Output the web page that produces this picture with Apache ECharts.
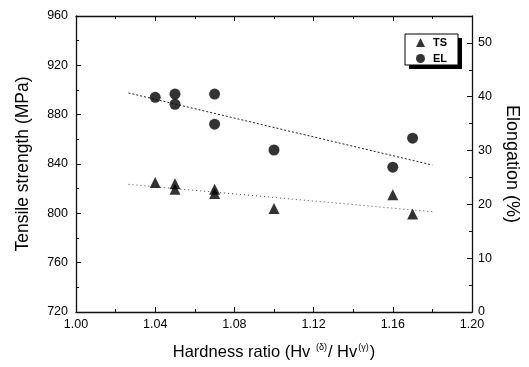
<!DOCTYPE html>
<html><head><meta charset="utf-8">
<script src="https://cdn.jsdelivr.net/npm/echarts@6/dist/echarts.min.js"></script>
<style>html,body{margin:0;padding:0;background:#fff}#c{width:529px;height:367px}</style>
</head><body><div id="c"></div>
<script>
var xTicks = [1.00, 1.04, 1.08, 1.12, 1.16, 1.20];
var tsX = [1.04, 1.05, 1.05, 1.07, 1.07, 1.10, 1.16, 1.17];
var tsY = [825, 824, 819.5, 819.5, 816, 804, 815, 799.5];
var elX = [1.04, 1.05, 1.05, 1.07, 1.07, 1.10, 1.16, 1.17];
var elY = [39.9, 40.5, 38.6, 40.5, 34.9, 30.1, 26.9, 32.3];
var tsFitX = [1.0265, 1.18];
var tsFitY = [823.5, 801.3];
var elFitX = [1.0265, 1.18];
var elFitY = [40.7, 27.3];

function pairs(a, b) { return a.map(function (v, i) { return [v, b[i]]; }); }

var font = 'Liberation Sans, Arial, sans-serif';
var chart = echarts.init(document.getElementById('c'));
var lineCol = '#111';
chart.setOption({
  animation: false,
  backgroundColor: '#fff',
  grid: { left: 76, right: 57, top: 16, bottom: 55 },
  graphic: [
    { type: 'rect', z: 3, shape: { x: 409, y: 38, width: 53, height: 31 }, style: { fill: '#000' } },
    { type: 'rect', z: 3, shape: { x: 405, y: 34, width: 53, height: 31 }, style: { fill: '#fff', stroke: '#000', lineWidth: 1 } }
  ],
  legend: {
    data: ['TS', 'EL'],
    orient: 'vertical',
    left: 416, top: 37, z: 6,
    padding: 0,
    itemWidth: 9, itemHeight: 9, itemGap: 5,
    textStyle: { fontFamily: font, fontSize: 11, fontWeight: 'bold', color: '#000', lineHeight: 10, padding: [0, 0, 0, 3] }
  },
  xAxis: [{
    type: 'value', min: 1.0, max: 1.2, interval: 0.04,
    name: '{a|Hardness ratio (Hv }{s|(δ)}{a|/ Hv}{s|(γ)}{a|)}',
    nameLocation: 'middle', nameGap: 31,
    nameTextStyle: {
      rich: {
        a: { fontFamily: font, fontSize: 16.5, color: '#000', verticalAlign: 'bottom' },
        s: { fontFamily: font, fontSize: 9, color: '#000', verticalAlign: 'top', padding: [0, 1, 9, 1] }
      }
    },
    axisLine: { show: true, lineStyle: { color: lineCol, width: 1.3 } },
    axisTick: { inside: true, length: 5, lineStyle: { color: lineCol } },
    minorTick: { show: true, splitNumber: 2, length: 3, lineStyle: { color: lineCol } },
    splitLine: { show: false },
    axisLabel: { fontFamily: font, fontSize: 12.5, color: '#000', margin: 6, formatter: function (v) { return v.toFixed(2); } }
  }, {
    type: 'value', min: 1.0, max: 1.2, interval: 0.04, position: 'top',
    axisLine: { show: true, lineStyle: { color: lineCol, width: 1.3 } },
    axisTick: { inside: true, length: 5, lineStyle: { color: lineCol } },
    minorTick: { show: true, splitNumber: 2, length: 3, lineStyle: { color: lineCol } },
    splitLine: { show: false },
    axisLabel: { show: false }
  }],
  yAxis: [{
    type: 'value', min: 720, max: 960, interval: 40,
    name: 'Tensile strength (MPa)', nameLocation: 'middle', nameGap: 44,
    nameTextStyle: { fontFamily: font, fontSize: 17.5, color: '#000' },
    axisLine: { show: true, lineStyle: { color: lineCol, width: 1.3 } },
    axisTick: { inside: true, length: 5, lineStyle: { color: lineCol } },
    minorTick: { show: true, splitNumber: 2, length: 3, lineStyle: { color: lineCol } },
    splitLine: { show: false },
    axisLabel: { fontFamily: font, fontSize: 12.5, color: '#000', margin: 8 }
  }, {
    type: 'value', min: 0, max: 55, interval: 10, position: 'right',
    name: 'Elongation (%)', nameLocation: 'middle', nameGap: 27, nameRotate: -90,
    nameTextStyle: { fontFamily: font, fontSize: 18, color: '#000' },
    axisLine: { show: true, lineStyle: { color: lineCol, width: 1.3 } },
    axisTick: { inside: true, length: 5, lineStyle: { color: lineCol } },
    minorTick: { show: true, splitNumber: 2, length: 3, lineStyle: { color: lineCol } },
    splitLine: { show: false },
    axisLabel: { fontFamily: font, fontSize: 12.5, color: '#000', margin: 6, showMaxLabel: false }
  }],
  series: [{
    name: 'TS', type: 'scatter', xAxisIndex: 0, yAxisIndex: 0,
    symbol: 'triangle', symbolSize: 11,
    itemStyle: { color: '#000' },
    data: pairs(tsX, tsY)
  }, {
    name: 'EL', type: 'scatter', xAxisIndex: 0, yAxisIndex: 1,
    symbol: 'circle', symbolSize: 11,
    itemStyle: { color: '#000' },
    data: pairs(elX, elY)
  }, {
    name: 'TS fit', type: 'line', xAxisIndex: 0, yAxisIndex: 0,
    symbol: 'none', lineStyle: { color: '#444', width: 1, type: [1, 3] },
    data: pairs(tsFitX, tsFitY), z: 1
  }, {
    name: 'EL fit', type: 'line', xAxisIndex: 0, yAxisIndex: 1,
    symbol: 'none', lineStyle: { color: '#222', width: 1, type: [2, 2] },
    data: pairs(elFitX, elFitY), z: 1
  }]
});
</script></body></html>
